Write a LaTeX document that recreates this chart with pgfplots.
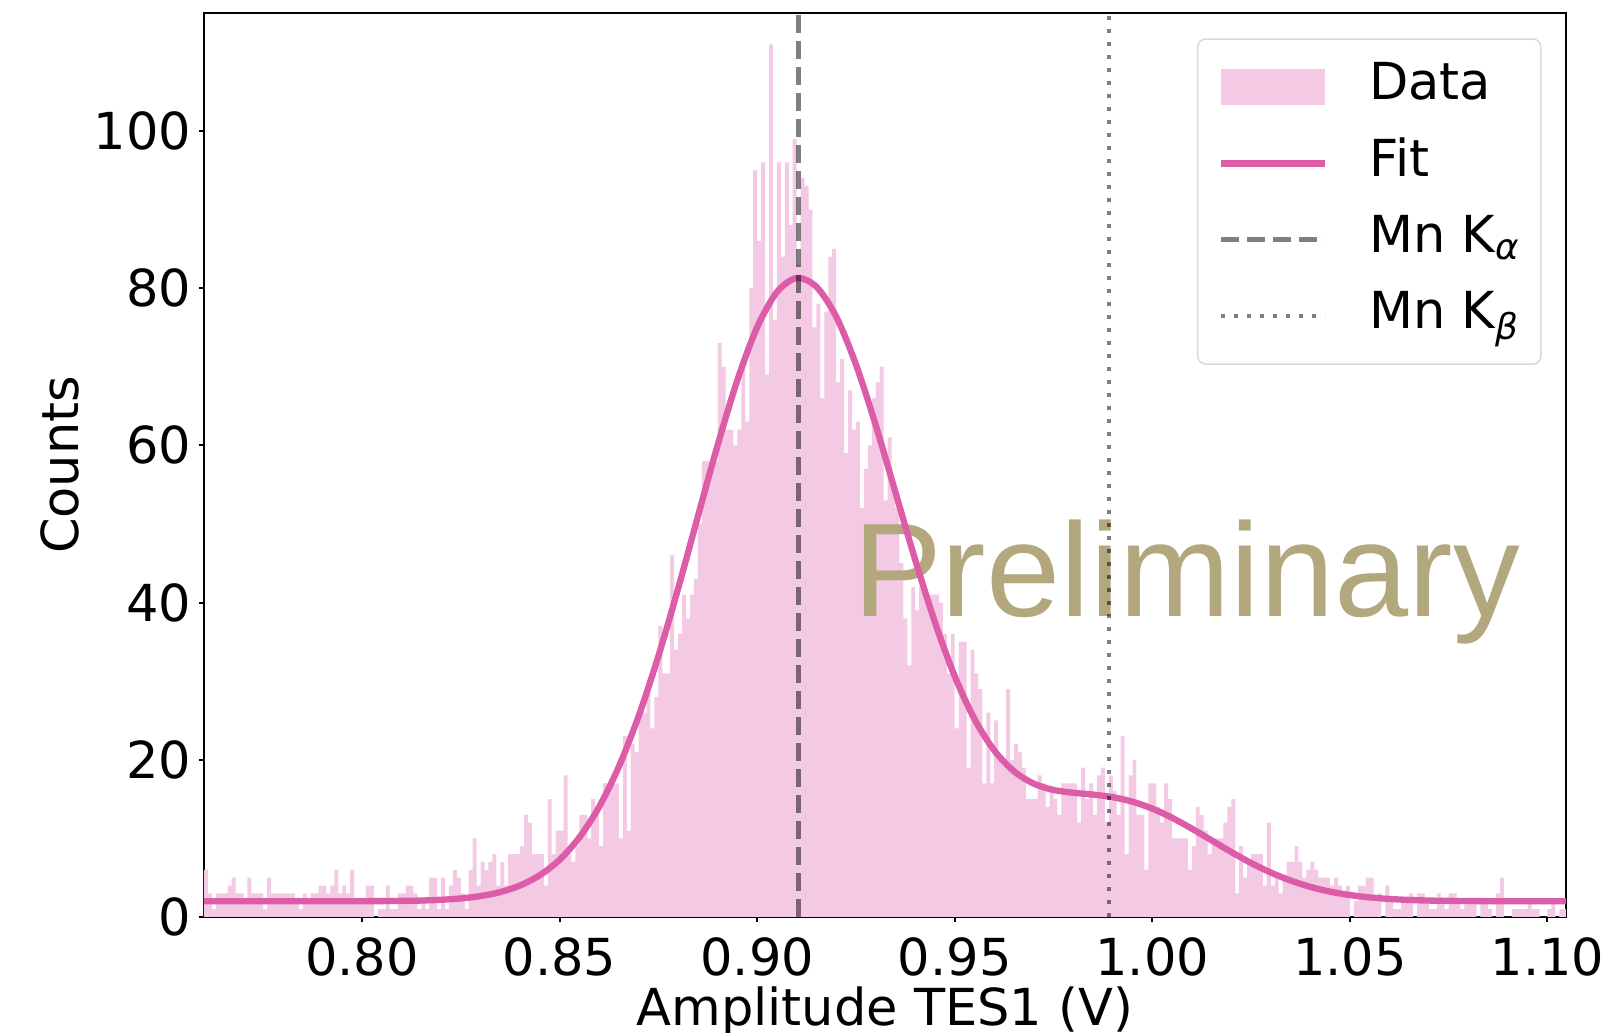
\documentclass[border=0pt]{standalone}
\usepackage{fontspec}
\setmainfont{DejaVu Sans}
\newfontfamily\heros{Liberation Sans}
\usepackage{pgfplots}
\pgfplotsset{compat=1.18}
\definecolor{histpink}{RGB}{243,201,228}
\definecolor{fitpink}{RGB}{221,92,168}
\definecolor{prelim}{RGB}{179,167,125}
\newcommand{\lblfont}{\fontsize{15.3pt}{18pt}\selectfont}
\begin{document}
\begin{tikzpicture}
\begin{axis}[
  scale only axis, width=408.6pt, height=271.2pt,
  xmin=0.760, xmax=1.1047, ymin=0, ymax=115,
  axis line style={line width=0.6pt, black},
  tick style={line width=0.6pt, black},
  major tick length=1.5pt, tick align=outside,
  xtick pos=bottom, ytick pos=left,
  xtick={0.80,0.85,0.90,0.95,1.00,1.05,1.10},
  xticklabels={0.80,0.85,0.90,0.95,1.00,1.05,1.10},
  ytick={0,20,40,60,80,100},
  yticklabels={0,20,40,60,80,100},
  ticklabel style={font=\lblfont},
  xticklabel style={anchor=north, inner sep=0pt, yshift=-4.5pt},
  yticklabel style={anchor=east, inner sep=0pt, xshift=-2.2pt},
  xlabel={Amplitude TES1 (V)},
  ylabel={Counts},
  label style={font=\lblfont},
  xlabel style={at={(axis description cs:0.5,-0.1195)}, anchor=base, inner sep=0pt},
  ylabel style={at={(axis description cs:-0.1057,0.5)}, anchor=center, inner sep=0pt},
  legend cell align=left,
  legend style={
    at={(rel axis cs:1,1)}, anchor=north east, xshift=-7.3pt, yshift=-7.6pt,
    draw=black!15, line width=0.45pt, rounded corners=2.4pt, fill=white,
    font=\lblfont, inner xsep=6.1pt, inner ysep=6.6pt, row sep=7.3pt,
    nodes={inner sep=0pt, text height=11.6pt, text depth=4pt},
    /tikz/every odd column/.append style={column sep=12.3pt},
  },
]
% histogram of pulse amplitudes, 1 mV bins
\addplot[const plot mark left, fill=histpink, draw=none,
  legend image code/.code={\fill[histpink, sharp corners] (0pt,-5.4pt) rectangle (31.2pt,5.4pt);}]
coordinates {
(0.760,6)(0.761,3)(0.762,1)(0.763,3)(0.764,3)(0.765,3)(0.766,4)(0.767,5)(0.768,3)(0.769,3)
(0.770,2)(0.771,5)(0.772,3)(0.773,3)(0.774,3)(0.775,1)(0.776,5)(0.777,3)(0.778,3)(0.779,3)
(0.780,3)(0.781,3)(0.782,3)(0.783,2)(0.784,1)(0.785,3)(0.786,2)(0.787,3)(0.788,3)(0.789,4)
(0.790,4)(0.791,3)(0.792,4)(0.793,6)(0.794,3)(0.795,4)(0.796,3)(0.797,6)(0.798,2)(0.799,2)
(0.800,2)(0.801,4)(0.802,4)(0.803,0)(0.804,1)(0.805,1)(0.806,4)(0.807,1)(0.808,1)(0.809,3)
(0.810,3)(0.811,4)(0.812,4)(0.813,3)(0.814,1)(0.815,2)(0.816,1)(0.817,5)(0.818,5)(0.819,1)
(0.820,5)(0.821,1)(0.822,4)(0.823,6)(0.824,5)(0.825,3)(0.826,1)(0.827,6)(0.828,10)(0.829,4)
(0.830,7)(0.831,6)(0.832,7)(0.833,8)(0.834,4)(0.835,7)(0.836,4)(0.837,8)(0.838,8)(0.839,8)
(0.840,9)(0.841,13)(0.842,12)(0.843,8)(0.844,8)(0.845,8)(0.846,4)(0.847,15)(0.848,8)(0.849,11)
(0.850,11)(0.851,18)(0.852,8)(0.853,7)(0.854,9)(0.855,13)(0.856,13)(0.857,10)(0.858,15)(0.859,13)
(0.860,9)(0.861,17)(0.862,17)(0.863,17)(0.864,17)(0.865,10)(0.866,23)(0.867,11)(0.868,22)(0.869,21)
(0.870,26)(0.871,26)(0.872,30)(0.873,24)(0.874,28)(0.875,37)(0.876,31)(0.877,31)(0.878,46)(0.879,34)
(0.880,36)(0.881,41)(0.882,38)(0.883,41)(0.884,43)(0.885,50)(0.886,58)(0.887,58)(0.888,58)(0.889,58)
(0.890,73)(0.891,70)(0.892,62)(0.893,62)(0.894,60)(0.895,62)(0.896,71)(0.897,63)(0.898,80)(0.899,95)
(0.900,86)(0.901,96)(0.902,69)(0.903,111)(0.904,76)(0.905,96)(0.906,84)(0.907,96)(0.908,88)(0.909,99)
(0.910,83)(0.911,94)(0.912,93)(0.913,90)(0.914,75)(0.915,78)(0.916,66)(0.917,77)(0.918,84)(0.919,85)
(0.920,68)(0.921,71)(0.922,59)(0.923,67)(0.924,62)(0.925,63)(0.926,52)(0.927,57)(0.928,60)(0.929,66)
(0.930,68)(0.931,70)(0.932,53)(0.933,61)(0.934,55)(0.935,52)(0.936,45)(0.937,38)(0.938,32)(0.939,42)
(0.940,39)(0.941,42)(0.942,42)(0.943,41)(0.944,41)(0.945,41)(0.946,40)(0.947,36)(0.948,31)(0.949,36)
(0.950,24)(0.951,35)(0.952,35)(0.953,19)(0.954,34)(0.955,31)(0.956,29)(0.957,17)(0.958,26)(0.959,17)
(0.960,25)(0.961,20)(0.962,20)(0.963,29)(0.964,20)(0.965,22)(0.966,21)(0.967,19)(0.968,15)(0.969,15)
(0.970,15)(0.971,18)(0.972,17)(0.973,14)(0.974,16)(0.975,15)(0.976,13)(0.977,17)(0.978,17)(0.979,17)
(0.980,17)(0.981,12)(0.982,19)(0.983,15)(0.984,17)(0.985,13)(0.986,18)(0.987,19)(0.988,12)(0.989,18)
(0.990,16)(0.991,13)(0.992,23)(0.993,8)(0.994,18)(0.995,20)(0.996,13)(0.997,13)(0.998,6)(0.999,17)
(1.000,17)(1.001,14)(1.002,12)(1.003,17)(1.004,15)(1.005,10)(1.006,10)(1.007,10)(1.008,10)(1.009,6)
(1.010,9)(1.011,14)(1.012,13)(1.013,11)(1.014,8)(1.015,10)(1.016,10)(1.017,10)(1.018,12)(1.019,14)
(1.020,15)(1.021,3)(1.022,9)(1.023,5)(1.024,7)(1.025,8)(1.026,8)(1.027,8)(1.028,4)(1.029,12)
(1.030,4)(1.031,5)(1.032,3)(1.033,5)(1.034,7)(1.035,7)(1.036,9)(1.037,7)(1.038,5)(1.039,6)
(1.040,7)(1.041,6)(1.042,5)(1.043,5)(1.044,5)(1.045,4)(1.046,5)(1.047,4)(1.048,3)(1.049,4)
(1.050,0)(1.051,2)(1.052,4)(1.053,4)(1.054,5)(1.055,5)(1.056,2)(1.057,3)(1.058,0)(1.059,4)
(1.060,2)(1.061,1)(1.062,1)(1.063,2)(1.064,2)(1.065,3)(1.066,0)(1.067,3)(1.068,3)(1.069,2)
(1.070,1)(1.071,1)(1.072,3)(1.073,2)(1.074,1)(1.075,3)(1.076,3)(1.077,2)(1.078,1)(1.079,2)
(1.080,2)(1.081,2)(1.082,0)(1.083,2)(1.084,2)(1.085,1)(1.086,0)(1.087,3)(1.088,5)(1.089,0)
(1.090,0)(1.091,1)(1.092,1)(1.093,1)(1.094,1)(1.095,2)(1.096,1)(1.097,1)(1.098,0)(1.099,0)
(1.100,1)(1.101,2)(1.102,0)(1.103,1)(1.104,1)(1.105,1)
} \closedcycle;
\addlegendentry{Data}
% watermark
\addplot[draw=none, forget plot] coordinates {(0.9241,38.27)}
  node[anchor=base west, inner sep=0pt, text=prelim, font=\heros\fontsize{40pt}{48pt}\selectfont] {Preliminary};
% fitted model: two Gaussian lines on a flat background
\addplot[fitpink, line width=1.9pt, smooth,
  legend image code/.code={\draw[fitpink, line width=1.9pt] (0pt,0pt) -- (31.2pt,0pt);}]
coordinates {
(0.760,2.00)(0.770,2.00)(0.780,2.00)(0.790,2.00)(0.800,2.01)(0.805,2.02)(0.810,2.05)(0.815,2.09)
(0.820,2.19)(0.825,2.36)(0.830,2.66)(0.835,3.17)(0.840,4.01)(0.845,5.32)(0.850,7.28)(0.855,10.12)
(0.860,14.00)(0.865,19.13)(0.870,25.55)(0.875,33.18)(0.880,41.80)(0.885,50.96)(0.890,60.04)
(0.895,68.30)(0.900,75.03)(0.905,79.50)(0.910,81.29)(0.915,80.17)(0.920,76.37)(0.925,70.29)
(0.930,62.57)(0.935,54.02)(0.940,45.43)(0.945,37.48)(0.950,30.63)(0.955,25.17)(0.960,21.19)
(0.965,18.53)(0.970,16.96)(0.975,16.16)(0.980,15.80)(0.985,15.57)(0.990,15.24)(0.995,14.66)
(1.000,13.79)(1.005,12.62)(1.010,11.24)(1.015,9.75)(1.020,8.26)(1.025,6.87)(1.030,5.65)
(1.035,4.64)(1.040,3.83)(1.045,3.22)(1.050,2.79)(1.055,2.49)(1.060,2.29)(1.065,2.17)
(1.070,2.09)(1.075,2.05)(1.080,2.03)(1.085,2.01)(1.090,2.00)(1.1047,2.00)
};
\addlegendentry{Fit}
\addplot[black, opacity=0.5, line width=1.4pt, dash pattern=on 5.4pt off 2.4pt,
  legend image code/.code={\draw[black, opacity=0.5, line width=1.4pt, dash pattern=on 5.4pt off 2.4pt] (0pt,0pt) -- (31.2pt,0pt);}]
coordinates {(0.9105,0) (0.9105,115)};
\addlegendentry{Mn K\textsubscript{\textit{α}}}
\addplot[black, opacity=0.5, line width=1.2pt, dash pattern=on 1.2pt off 2.7pt,
  legend image code/.code={\draw[black, opacity=0.5, line width=1.2pt, dash pattern=on 1.2pt off 2.7pt] (0pt,0pt) -- (31.2pt,0pt);}]
coordinates {(0.9891,0) (0.9891,115)};
\addlegendentry{Mn K\textsubscript{\textit{β}}}
\end{axis}
\pgfresetboundingbox
\path ([shift={(-61.2pt,-34.8pt)}]current axis.south west) rectangle ([shift={(13.2pt,3.9pt)}]current axis.north east);
\end{tikzpicture}
\end{document}
